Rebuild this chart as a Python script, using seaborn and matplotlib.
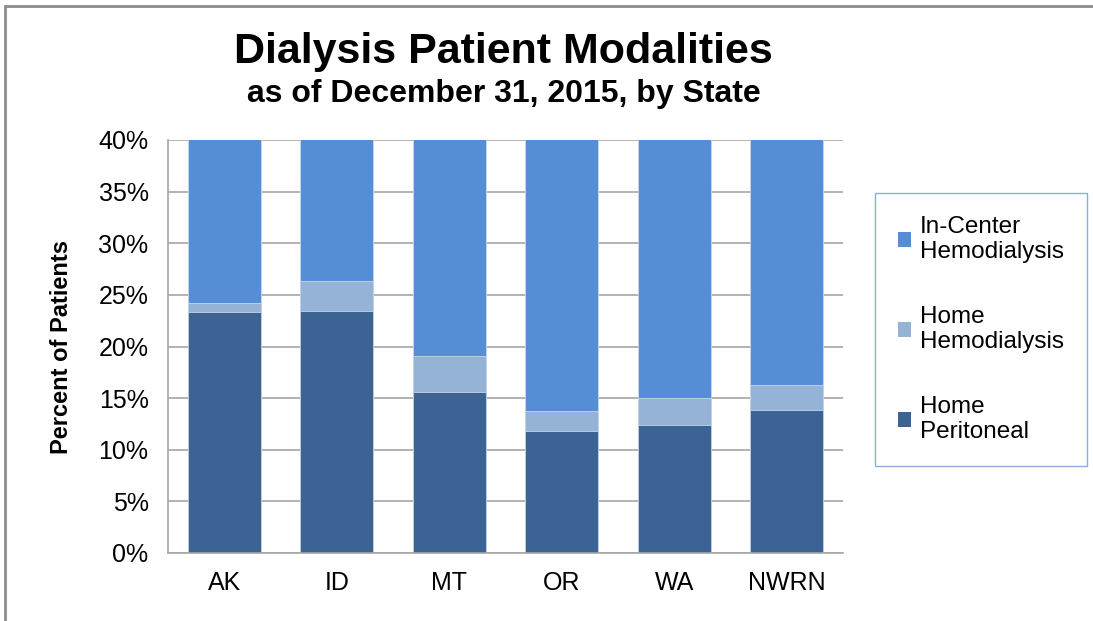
import numpy as np
import pandas as pd
import seaborn as sns
import matplotlib.pyplot as plt
from matplotlib.patches import Patch, Rectangle

states = ['AK', 'ID', 'MT', 'OR', 'WA', 'NWRN']
home_peritoneal = [23.3, 23.4, 15.6, 11.8, 12.35, 13.85]
home_hemo = [0.9, 2.9, 3.45, 1.95, 2.65, 2.45]
in_center = [100 - p - h for p, h in zip(home_peritoneal, home_hemo)]

series_names = ['In-Center\nHemodialysis', 'Home\nHemodialysis', 'Home\nPeritoneal']
colors = ['#558ED5', '#95B3D7', '#3B6494']


def build_df():
    df = pd.DataFrame({
        'state': states,
        'peritoneal': home_peritoneal,
        'hemo': home_hemo,
        'center': in_center,
    })
    df['top_peritoneal'] = df['peritoneal']
    df['top_hemo'] = df['peritoneal'] + df['hemo']
    df['top_center'] = df['top_hemo'] + df['center']
    return df


def draw_chart():
    df = build_df()

    sns.set_theme(style='white')
    plt.rcParams['font.family'] = ['Liberation Sans', 'DejaVu Sans']
    plt.rcParams['text.color'] = 'black'
    plt.rcParams['axes.labelcolor'] = 'black'

    fig = plt.figure(figsize=(10.93, 6.21), dpi=100)
    ax = fig.add_axes([168 / 1093, 1 - 553 / 621, (843 - 168) / 1093, (553 - 140) / 621])

    # stacked bars: draw cumulative totals from tallest to shortest
    for col, color in zip(['top_center', 'top_hemo', 'top_peritoneal'], colors):
        sns.barplot(data=df, x='state', y=col, color=color, width=0.65, ax=ax,
                    edgecolor='#C9D6E8', linewidth=0.6, saturation=1, zorder=2)

    ax.set_ylim(0, 40)
    ax.set_xlim(-0.5, len(states) - 0.5)
    ax.set_yticks(np.arange(0, 41, 5))
    ax.set_yticklabels([f'{v}%' for v in range(0, 41, 5)])
    ax.yaxis.grid(True, color='#A6A6A6', linewidth=1.2, zorder=0)
    ax.set_axisbelow(True)
    ax.tick_params(axis='y', length=0, pad=14, labelsize=18, colors='black')
    ax.tick_params(axis='x', length=0, pad=13, labelsize=18, colors='black')
    ax.set_xlabel('')
    ax.set_ylabel('Percent of Patients', fontsize=17, fontweight='bold', labelpad=18)

    for side in ['top', 'right']:
        ax.spines[side].set_visible(False)
    for side in ['left', 'bottom']:
        ax.spines[side].set_color('#A6A6A6')
        ax.spines[side].set_linewidth(1.2)

    fig.text(0.461, 0.917, 'Dialysis Patient Modalities', ha='center', va='center',
             fontsize=31, fontweight='bold')
    fig.text(0.461, 0.848, 'as of December 31, 2015, by State', ha='center', va='center',
             fontsize=23, fontweight='bold')

    handles = [Patch(facecolor=c, edgecolor='none') for c in colors]
    leg = fig.legend(handles, series_names, loc='upper left',
                     bbox_to_anchor=(875 / 1093, 1 - 193 / 621),
                     fontsize=17.5, frameon=True, fancybox=False,
                     handlelength=0.55, handleheight=0.55, handletextpad=0.35,
                     labelspacing=1.75, borderpad=0.95, borderaxespad=0)
    leg.get_frame().set_edgecolor('#6C9AD4')
    leg.get_frame().set_linewidth(1.0)

    # outer border (top and left edge of the screenshot)
    fig.add_artist(Rectangle((5 / 1093, -0.1), 1.2, 1 - 6 / 621 + 0.1, transform=fig.transFigure,
                             fill=False, edgecolor='#8C8C8C', linewidth=2))

    fig.savefig('out.png', dpi=100)
    return fig


draw_chart()
